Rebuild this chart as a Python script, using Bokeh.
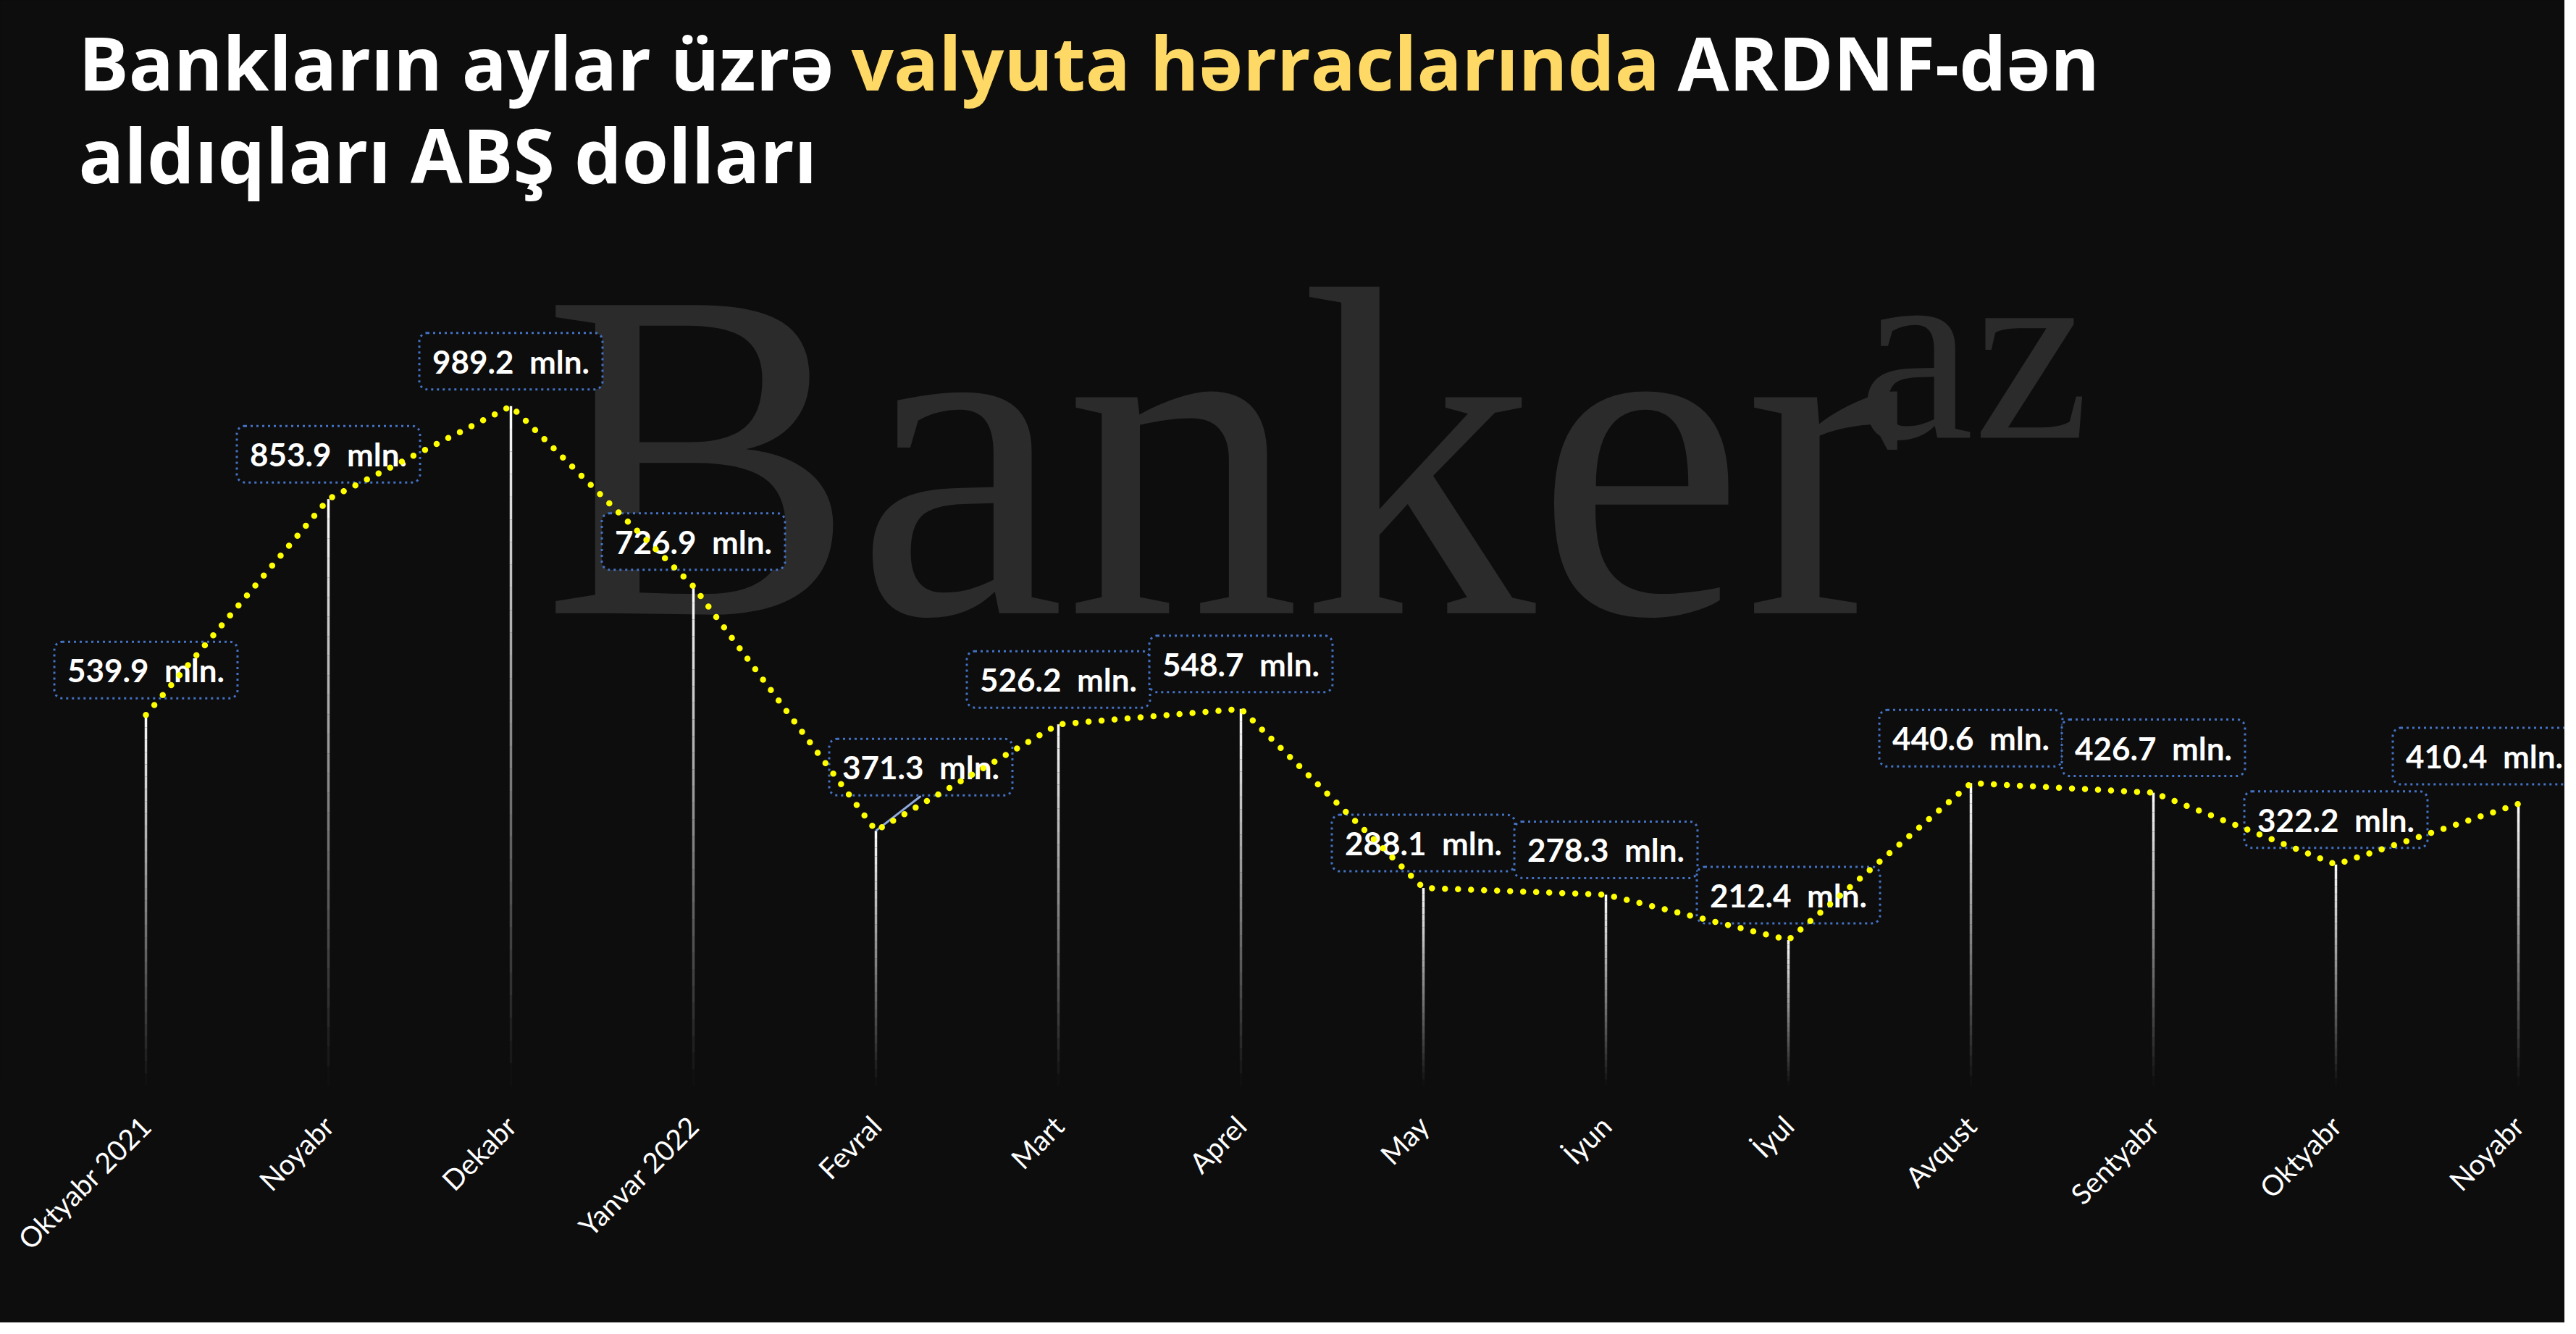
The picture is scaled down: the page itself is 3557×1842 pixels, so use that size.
import math
from bokeh.plotting import figure
from bokeh.models import Range1d, LinearAxis, FixedTicker, Label, ColumnDataSource
from bokeh.core.properties import value
from bokeh.embed import file_html
from bokeh.resources import INLINE

# ---- data ----
months = ["Oktyabr 2021", "Noyabr", "Dekabr", "Yanvar 2022", "Fevral", "Mart",
          "Aprel", "May", "İyun", "İyul", "Avqust", "Sentyabr", "Oktyabr", "Noyabr"]
values = [539.9, 853.9, 989.2, 726.9, 371.3, 526.2, 548.7,
          288.1, 278.3, 212.4, 440.6, 426.7, 322.2, 410.4]
unit = "mln."
title_white_1 = "Bankların aylar üzrə"
title_yellow = "valyuta hərraclarında"
title_white_2 = "ARDNF-dən"
title_line_2 = "aldıqları ABŞ dolları"
watermark = "Banker"
watermark_sup = "az"

# ---- styling / layout ----
BG = "#0d0d0d"
W, H = 3541, 1826
FRAME_H = 1499
BOTTOM = H - FRAME_H
PX_X = 252.0
X_START = -201.0 / PX_X
X_END = X_START + W / PX_X
PX_Y = 0.949
Y_END = FRAME_H / PX_Y
LABEL_DX = 0.0  # px shift of tick labels

p = figure(width=W, height=H, output_backend="svg", toolbar_location=None,
           x_range=Range1d(X_START, X_END), y_range=Range1d(0, Y_END),
           x_axis_location=None, y_axis_location=None,
           min_border=0, min_border_bottom=BOTTOM,
           background_fill_color=BG, border_fill_color=None, outline_line_color=None,
           styles={"background-color": BG})
p.grid.visible = False


def screen_y(y_abs, size, k):
    # alphabetic baseline given in pixels from the top of the figure
    return (FRAME_H - y_abs) + k * size


# watermark
WM = 650
WS = 360
p.add_layout(Label(x=748, y=screen_y(845, WM, 0.335), x_units="screen", y_units="screen",
                   text=watermark, text_font="Liberation Serif", text_font_size=f"{WM}px",
                   text_color="#2b2b2b", text_baseline="alphabetic", level="underlay"))
p.add_layout(Label(x=2565, y=screen_y(594, WS, 0.31), x_units="screen", y_units="screen",
                   text=watermark_sup, text_font="Liberation Serif", text_font_size=f"{WS}px",
                   text_color="#2b2b2b", text_baseline="alphabetic", level="underlay"))

# title
TS1, TS2 = 103, 104
base = dict(x_units="screen", y_units="screen", text_font="Open Sans",
            text_font_style="bold", text_baseline="alphabetic")
y1 = screen_y(122, TS1, 0.36)
y2 = screen_y(249, TS2, 0.36)
p.add_layout(Label(x=108, y=y1, text=title_white_1, text_color="white",
                   text_font_size=f"{TS1}px", **base))
p.add_layout(Label(x=1175, y=y1, text=title_yellow, text_color="#FFD966",
                   text_font_size=f"{TS1}px", **base))
p.add_layout(Label(x=2316, y=y1, text=title_white_2, text_color="white",
                   text_font_size=f"{TS1}px", **base))
p.add_layout(Label(x=108, y=y2, text=title_line_2, text_color="white",
                   text_font_size=f"{TS2}px", **base))

xs = list(range(len(values)))

# vertical gradient lines (white fading to transparent toward the baseline)
N = 30
sx0, sy0, sx1, sy1, sa = [], [], [], [], []
for i, v in zip(xs, values):
    for k in range(N):
        sx0.append(i); sx1.append(i)
        sy0.append(v * (1 - k / N)); sy1.append(v * (1 - (k + 1) / N))
        sa.append(1 - (k + 0.5) / N)
p.segment(x0=sx0, y0=sy0, x1=sx1, y1=sy1, line_color="white", line_alpha=sa, line_width=3.5)

# label offsets (screen px)
xo = [0] * len(values)
yo = [-62] * len(values)
xo[4], yo[4] = 62, -88
xo[13], yo[13] = -47, -66

# leader line for the shifted label
lx1 = xs[4] + xo[4] / PX_X
ly1 = values[4] + 48 / PX_Y
p.segment(x0=[xs[4]], y0=[values[4]], x1=[lx1], y1=[ly1], line_color="#8FAADC", line_width=3)

src = ColumnDataSource(dict(x=xs, y=values, xo=xo, yo=yo,
                            label=[f"{v:.1f}\u00a0 {unit}" for v in values]))
p.text(x="x", y="y", text="label", source=src, x_offset="xo", y_offset="yo",
       text_align="center", text_baseline="middle", text_font=value("Lato"),
       text_font_style="bold", text_font_size="44px", text_color="white",
       background_fill_color=BG, border_line_color="#4472C4", border_line_width=3,
       border_line_dash="3 5", padding=(18, 13), border_radius=11)

# dotted yellow line on top
p.line(xs, values, line_color="#FFFF00", line_width=8.5, line_dash="0 18", line_cap="round")

# x axis with rotated month labels
p.extra_x_ranges = {"lab": Range1d(X_START - LABEL_DX / PX_X, X_END - LABEL_DX / PX_X)}
ax = LinearAxis(x_range_name="lab", ticker=FixedTicker(ticks=xs),
                major_label_overrides={i: m for i, m in zip(xs, months)},
                major_label_orientation=math.pi / 4,
                axis_line_color=None, major_tick_line_color=None, minor_tick_line_color=None,
                major_tick_in=0, major_tick_out=0,
                major_label_text_color="white", major_label_text_font="Lato",
                major_label_text_font_size="39px", major_label_standoff=48)
p.add_layout(ax, "below")

open("out.html", "w").write(file_html(p, INLINE))
